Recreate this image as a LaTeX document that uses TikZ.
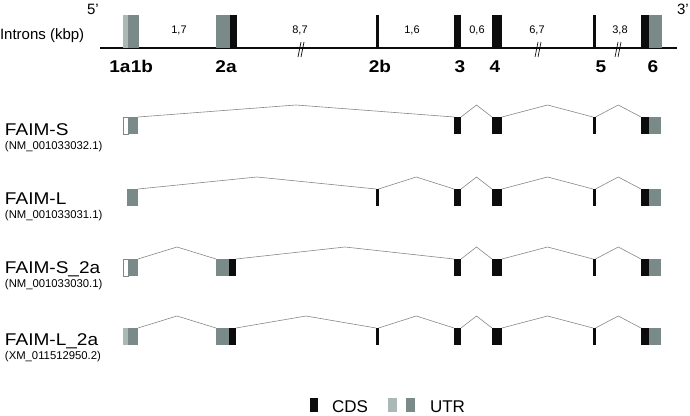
\documentclass[tikz,border=0pt]{standalone}
\usepackage{fontspec}
\setmainfont{Liberation Sans}
\usetikzlibrary{positioning, calc}
\definecolor{ExBlack}{RGB}{12,12,12}
\definecolor{ExGray}{RGB}{122,138,136}
\definecolor{ExLight}{RGB}{170,184,182}
\definecolor{IntronGray}{RGB}{135,135,135}

\begin{document}
\begin{tikzpicture}[x=1pt, y=-1pt,
      every node/.style={inner sep=0pt, outer sep=0pt},
      gexon/.style={rectangle, anchor=north west, minimum height=33},
      exon/.style={rectangle, anchor=north west, minimum height=17},
      cds/.style={exon, fill=ExBlack},
      utr/.style={exon, fill=ExGray},
      utrl/.style={exon, fill=ExLight},
      utrw/.style={exon, fill=white, draw=ExGray, line width=0.6pt},
      intron/.style={draw=IntronGray, line width=0.6pt,
                     to path={-- ($(\tikztostart)!0.5!(\tikztotarget)+(0,-12)$) -- (\tikztotarget)}},
      backbone/.style={line width=1.6pt, ExBlack},
      brk/.style={line width=0.7pt, ExBlack},
      kbp/.style={font=\fontsize{11}{11}\selectfont, anchor=base},
      exlbl/.style={font=\fontsize{17}{17}\selectfont\bfseries, anchor=base,
                    xscale=1.12, transform shape},
      trname/.style={font=\fontsize{17}{17}\selectfont, anchor=base west,
                     xscale=1.12, transform shape},
      accno/.style={font=\fontsize{11.3}{11.3}\selectfont, anchor=base west},
      endlbl/.style={font=\fontsize{15}{15}\selectfont, anchor=base west},
      legtxt/.style={font=\fontsize{17}{17}\selectfont, anchor=base west},
    ]
      \useasboundingbox (0,0) rectangle (690,415);
      % Gene structure: backbone, exons and intron sizes
      \node[endlbl] (p5) at (87,14) {5'};
      \node[endlbl] (p3) at (677,14) {3'};
      \node[endlbl] (intr) at (0,39) {Introns (kbp)};
      \coordinate (bbl) at (100,48);
      \coordinate (bbr) at (677,48);
      \draw[backbone] (bbl) -- (bbr);
      \foreach \bx in {300,537,617} {
        \draw[brk] (\bx+1,42) -- (\bx-2,57);
        \draw[brk] (\bx+4,42) -- (\bx+1,57);
      }
      \node[gexon, fill=ExLight, minimum width=5] (g-1a) at (123,15) {};
      \node[gexon, fill=ExGray, minimum width=11] (g-1b) at (128,15) {};
      \node[gexon, fill=ExGray, minimum width=14] (g-2a) at (216,15) {};
      \node[gexon, fill=ExBlack, minimum width=7] (g-2ac) at (230,15) {};
      \node[gexon, fill=ExBlack, minimum width=2.5] (g-2b) at (376,15) {};
      \node[gexon, fill=ExBlack, minimum width=7] (g-3) at (454,15) {};
      \node[gexon, fill=ExBlack, minimum width=10] (g-4) at (492,15) {};
      \node[gexon, fill=ExBlack, minimum width=2.5] (g-5) at (593,15) {};
      \node[gexon, fill=ExBlack, minimum width=8] (g-6) at (641,15) {};
      \node[gexon, fill=ExGray, minimum width=13] (g-6u) at (649,15) {};
      \foreach \kx/\kv in {179/{1,7}, 300/{8,7}, 412/{1,6}, 477/{0,6}, 537/{6,7}, 620/{3,8}}
        \node[kbp] at (\kx,33) {\kv};
      \foreach \lx/\lv in {120/1a, 142/1b, 226/2a, 380/2b, 460/3, 495/4, 601/5, 653/6}
        \node[exlbl] at (\lx,72) {\lv};
      % Exons shared by all four transcripts
      \foreach \r/\top in {1/117, 2/189, 3/259, 4/328} {
        \node[cds, minimum width=7] (r\r-e3) at (454,\top) {};
        \node[cds, minimum width=10] (r\r-e4) at (492,\top) {};
        \node[cds, minimum width=2.5] (r\r-e5) at (593,\top) {};
        \node[cds, minimum width=8] (r\r-e6) at (641,\top) {};
        \node[utr, minimum width=12] (r\r-u6) at (649,\top) {};
        \draw[intron] (r\r-e3.north east) to (r\r-e4.north west);
        \draw[intron] (r\r-e4.north east) to (r\r-e5.north west);
        \draw[intron] (r\r-e5.north east) to (r\r-e6.north west);
      }
      % FAIM-S
      \node[trname] (n1) at (5,135) {FAIM-S};
      \node[accno] (a1) at ([yshift=-14pt]n1.base west) {(NM\_001033032.1)};
      \node[utrw, minimum width=5] (r1-1a) at (123,117) {};
      \node[utr, minimum width=10] (r1-1b) at (128,117) {};
      \draw[intron] (r1-1b.north east) to (r1-e3.north west);
      % FAIM-L
      \node[trname] (n2) at (5,204) {FAIM-L};
      \node[accno] (a2) at ([yshift=-14pt]n2.base west) {(NM\_001033031.1)};
      \node[utr, minimum width=11] (r2-1b) at (127,189) {};
      \node[cds, minimum width=2.5] (r2-2b) at (376,189) {};
      \draw[intron] (r2-1b.north east) to (r2-2b.north west);
      \draw[intron] (r2-2b.north east) to (r2-e3.north west);
      % FAIM-S_2a
      \node[trname] (n3) at (5,273) {FAIM-S\_2a};
      \node[accno] (a3) at ([yshift=-14pt]n3.base west) {(NM\_001033030.1)};
      \node[utrw, minimum width=5] (r3-1a) at (123,259) {};
      \node[utr, minimum width=10] (r3-1b) at (128,259) {};
      \node[utr, minimum width=13] (r3-2a) at (216,259) {};
      \node[cds, minimum width=7] (r3-2ac) at (229,259) {};
      \draw[intron] (r3-1b.north east) to (r3-2a.north west);
      \draw[intron] (r3-2ac.north east) to (r3-e3.north west);
      % FAIM-L_2a
      \node[trname] (n4) at (5,345) {FAIM-L\_2a};
      \node[accno] (a4) at ([yshift=-14pt]n4.base west) {(XM\_011512950.2)};
      \node[utrl, minimum width=5] (r4-1a) at (123,328) {};
      \node[utr, minimum width=10] (r4-1b) at (128,328) {};
      \node[utr, minimum width=13] (r4-2a) at (216,328) {};
      \node[cds, minimum width=7] (r4-2ac) at (229,328) {};
      \node[cds, minimum width=2.5] (r4-2b) at (376,328) {};
      \draw[intron] (r4-1b.north east) to (r4-2a.north west);
      \draw[intron] (r4-2ac.north east) to (r4-2b.north west);
      \draw[intron] (r4-2b.north east) to (r4-e3.north west);
      % Legend
      \node[cds, minimum width=8, minimum height=14] (lg-cds) at (310,398) {};
      \node[legtxt] (lt-cds) at (332,412) {CDS};
      \node[utrl, minimum width=9, minimum height=14] (lg-utrl) at (388,398) {};
      \node[utr, minimum width=9, minimum height=14] (lg-utr) at (406,398) {};
      \node[legtxt] (lt-utr) at (430,412) {UTR};
    \end{tikzpicture}
\end{document}
